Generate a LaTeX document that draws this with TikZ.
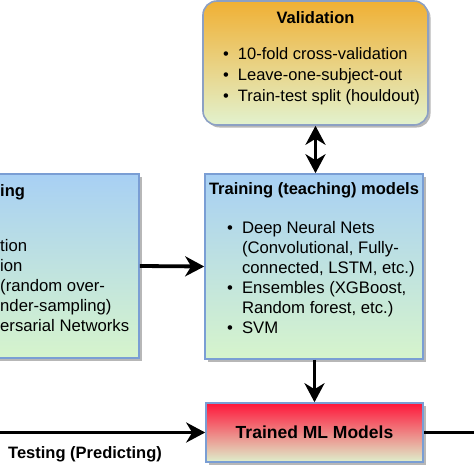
\documentclass[tikz,border=0pt]{standalone}
\usepackage{fontspec}
\setmainfont{Liberation Sans}
\usetikzlibrary{arrows.meta,shadows}
\definecolor{bluetop}{RGB}{168,208,244}
\definecolor{greenbot}{RGB}{214,244,204}
\definecolor{orangetop}{RGB}{240,176,52}
\definecolor{palebot}{RGB}{226,242,206}
\definecolor{redtop}{RGB}{255,22,58}
\definecolor{redbot}{RGB}{222,240,204}
\definecolor{edgeblue}{RGB}{122,158,212}
\definecolor{edgegray}{RGB}{140,160,196}
\tikzset{
  box/.style={draw=edgeblue, line width=1.6pt, inner sep=0pt,
    drop shadow={shadow xshift=2.5pt, shadow yshift=-2.5pt, fill=black!40, opacity=0.7}},
  bluebox/.style={box, top color=bluetop, bottom color=greenbot},
  tip/.tip={Stealth[length=19pt,width=20pt,inset=6pt]},
  arr/.style={line width=3.8pt, -tip},
  darr/.style={line width=3.8pt, tip-tip},
  titletext/.style={font=\fontsize{16.5}{20}\selectfont\bfseries, inner sep=0pt},
  bodytext/.style={font=\fontsize{16.7}{20}\selectfont, inner sep=0pt, anchor=base west},
}
\begin{document}
\begin{tikzpicture}[x=1pt,y=-1pt]
\useasboundingbox (0,0) rectangle (474,474);
\clip (0,0) rectangle (474,474);
% boxes
\node[bluebox, minimum width=151pt, minimum height=184pt] (prep) at (63.5,266) {};
\node[bluebox, minimum width=218pt, minimum height=185pt] (train) at (314,266.5) {};
\node[box, draw=edgegray, rounded corners=14pt, top color=orangetop, bottom color=palebot,
      minimum width=225pt, minimum height=124pt] (valid) at (315.5,63) {};
\node[box, top color=redtop, bottom color=redbot, minimum width=217pt, minimum height=59pt,
      font=\fontsize{17.5}{20}\selectfont\bfseries] (trained) at (314.5,432.5) {Trained ML Models};
% texts
\node[titletext, anchor=base] (vtitle) at (315.5,23) {Validation};
\node[bodytext, font=\fontsize{16.5}{21}\selectfont] (vlist) at (223,59) {\begin{tabular}[t]{@{}l@{\hspace{9pt}}l@{}}
\textbullet & 10-fold cross-validation\\
\textbullet & Leave-one-subject-out\\
\textbullet & Train-test split (houldout)
\end{tabular}};
\node[titletext, anchor=base] (ttitle) at (314,194) {Training (teaching) models};
\node[bodytext] (tlist) at (227,233) {\begin{tabular}[t]{@{}l@{\hspace{9pt}}l@{}}
\textbullet & Deep Neural Nets\\
 & (Convolutional, Fully-\\
 & connected, LSTM, etc.)\\
\textbullet & Ensembles (XGBoost,\\
 & Random forest, etc.)\\
\textbullet & SVM
\end{tabular}};
\node[titletext, anchor=base west] (ptitle) at (0,196) {ing};
\node[bodytext] (plist) at (0,251) {\begin{tabular}[t]{@{}l@{}}
tion\\
ion\\
(random over-\\
nder-sampling)\\
ersarial Networks
\end{tabular}};
\node[titletext, anchor=base west] (testlbl) at (8,458) {Testing (Predicting)};
% connectors
\coordinate (tin) at (0,432.5);
\coordinate (tout) at (474,432.5);
\draw[arr] (prep.east) -- (train.west);
\draw[darr] (valid.south) -- (valid.south |- train.north);
\draw[arr] (train.south -| trained.north) -- (trained.north);
\draw[arr] (tin) -- (trained.west);
\draw[line width=3.8pt] (trained.east) -- (tout);
\end{tikzpicture}
\end{document}
